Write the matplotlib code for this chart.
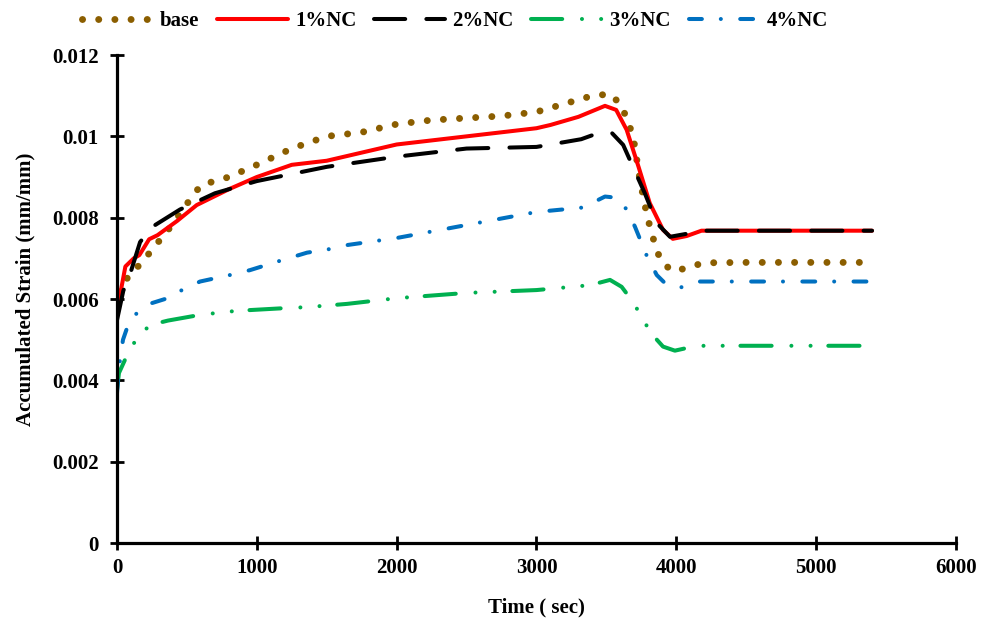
import matplotlib
matplotlib.use("Agg")
import matplotlib.pyplot as plt

plt.rcParams['font.family'] = ['Liberation Serif', 'DejaVu Serif']
plt.rcParams['font.weight'] = 'bold'

base_t = [0, 70, 140, 220, 290, 360, 430, 500, 600, 800, 1000, 1250, 1500, 1750, 2000, 2250, 2500, 2750, 3000, 3200, 3400, 3530, 3610, 3650, 3690, 3740, 3790, 3820, 3850, 3890, 3970, 4080, 4190, 4500, 5000, 5400]
base_y = [0.0062, 0.0065, 0.00676, 0.00708, 0.00738, 0.00767, 0.0080, 0.00834, 0.0088, 0.0090, 0.0093, 0.0097, 0.0100, 0.0101, 0.0103, 0.0104, 0.01045, 0.0105, 0.0106, 0.0108, 0.0110, 0.01104, 0.01075, 0.01038, 0.01003, 0.00893, 0.00806, 0.00767, 0.00731, 0.00693, 0.00669, 0.00676, 0.00689, 0.0069, 0.0069, 0.0069]

nc1_t = [0, 60, 120, 160, 230, 290, 430, 570, 800, 1000, 1250, 1500, 1750, 2000, 2500, 3000, 3100, 3300, 3490, 3570, 3645, 3730, 3810, 3905, 3975, 4075, 4180, 5400]
nc1_y = [0.0057, 0.0068, 0.0070, 0.00708, 0.00747, 0.00757, 0.00792, 0.00831, 0.0087, 0.0090, 0.0093, 0.0094, 0.0096, 0.0098, 0.0100, 0.0102, 0.01028, 0.01048, 0.01075, 0.01065, 0.01016, 0.00925, 0.00836, 0.0077, 0.00748, 0.00755, 0.00768, 0.00768]

nc2_t = [0, 45, 95, 165, 250, 450, 700, 1000, 1500, 2000, 2500, 3000, 3320, 3450, 3540, 3620, 3690, 3775, 3860, 3955, 4100, 4200, 5400]
nc2_y = [0.00548, 0.0062, 0.00663, 0.0074, 0.00777, 0.0082, 0.0086, 0.0089, 0.00925, 0.0095, 0.0097, 0.00974, 0.00993, 0.01009, 0.01008, 0.00979, 0.00925, 0.0086, 0.00787, 0.00753, 0.00762, 0.00768, 0.00768]

nc3_t = [0, 14, 79, 143, 236, 365, 594, 722, 858, 1223, 1359, 1645, 2000, 2500, 3000, 3383, 3526, 3609, 3690, 3752, 3819, 3905, 3990, 4133, 4200, 5400]
nc3_y = [0.00376, 0.00418, 0.00467, 0.00504, 0.00536, 0.00547, 0.00561, 0.00566, 0.00571, 0.00578, 0.0058, 0.00588, 0.00602, 0.00615, 0.00622, 0.00634, 0.00647, 0.0063, 0.00593, 0.00556, 0.00516, 0.00483, 0.00473, 0.00484, 0.00485, 0.00485]

nc4_t = [0, 7, 21, 43, 79, 143, 250, 343, 465, 594, 808, 951, 1166, 1359, 1524, 1652, 2000, 2500, 3000, 3333, 3490, 3547, 3645, 3704, 3788, 3860, 3919, 4038, 4170, 5400]
nc4_y = [0.00369, 0.0040, 0.0045, 0.0050, 0.00536, 0.00566, 0.0059, 0.0060, 0.00622, 0.00643, 0.00659, 0.00671, 0.00694, 0.00714, 0.00723, 0.00733, 0.0075, 0.00782, 0.00814, 0.00825, 0.00852, 0.0085, 0.00821, 0.00778, 0.00707, 0.00659, 0.00639, 0.00629, 0.00643, 0.00643]

labels = ["base", "1%NC", "2%NC", "3%NC", "4%NC"]
xticks = [0, 1000, 2000, 3000, 4000, 5000, 6000]
yticks = [0, 0.002, 0.004, 0.006, 0.008, 0.01, 0.012]
ytick_labels = ["0", "0.002", "0.004", "0.006", "0.008", "0.01", "0.012"]

fig = plt.figure(figsize=(9.84, 6.21), dpi=100)
ax = fig.add_axes([0.1189, 0.1256, 0.8526, 0.7858])

LW = 2.9
ax.plot(base_t, base_y, color='#8B5E00', lw=5.0, linestyle=(0, (0.01, 2.32)),
        dash_capstyle='round', label=labels[0])
ax.plot(nc1_t, nc1_y, color='#FF0000', lw=LW, linestyle='-', label=labels[1],
        solid_joinstyle='round', solid_capstyle='round')
ax.plot(nc2_t, nc2_y, color='#000000', lw=LW, linestyle=(0, (7.75, 5.25)),
        dash_capstyle='round', label=labels[2])
ax.plot(nc3_t, nc3_y, color='#00B050', lw=LW, linestyle=(0, (7.75, 4.9, 0.01, 4.75, 0.01, 4.4)),
        dash_capstyle='round', label=labels[3])
ax.plot(nc4_t, nc4_y, color='#0070C0', lw=LW, linestyle=(0, (3.2, 4.7, 0.01, 4.8)),
        dash_capstyle='round', label=labels[4])

ax.set_xlim(0, 6000)
ax.set_ylim(0, 0.012)
ax.set_xticks(xticks)
ax.set_xticklabels([str(v) for v in xticks])
ax.set_yticks(yticks)
ax.set_yticklabels(ytick_labels)
for s in ['top', 'right']:
    ax.spines[s].set_visible(False)
for s in ['left', 'bottom']:
    ax.spines[s].set_linewidth(2.3)
ax.tick_params(direction='inout', length=10, width=2.0, labelsize=15)
ax.tick_params(axis='y', pad=8)
ax.tick_params(axis='x', pad=6)
for lab in ax.get_xticklabels() + ax.get_yticklabels():
    lab.set_fontweight('bold')

ax.set_xlabel("Time ( sec)", fontsize=15, fontweight='bold', labelpad=14)
ax.set_ylabel("Accumulated Strain (mm/mm)", fontsize=15, fontweight='bold', labelpad=12)
ax.yaxis.label.set_y(0.52)

fig.legend(loc='center', bbox_to_anchor=(0.4624, 0.966), ncol=5, frameon=False,
           handlelength=3.4, columnspacing=0.85, handletextpad=0.35,
           prop={'weight': 'bold', 'size': 15})

fig.savefig("out.png", dpi=100)
